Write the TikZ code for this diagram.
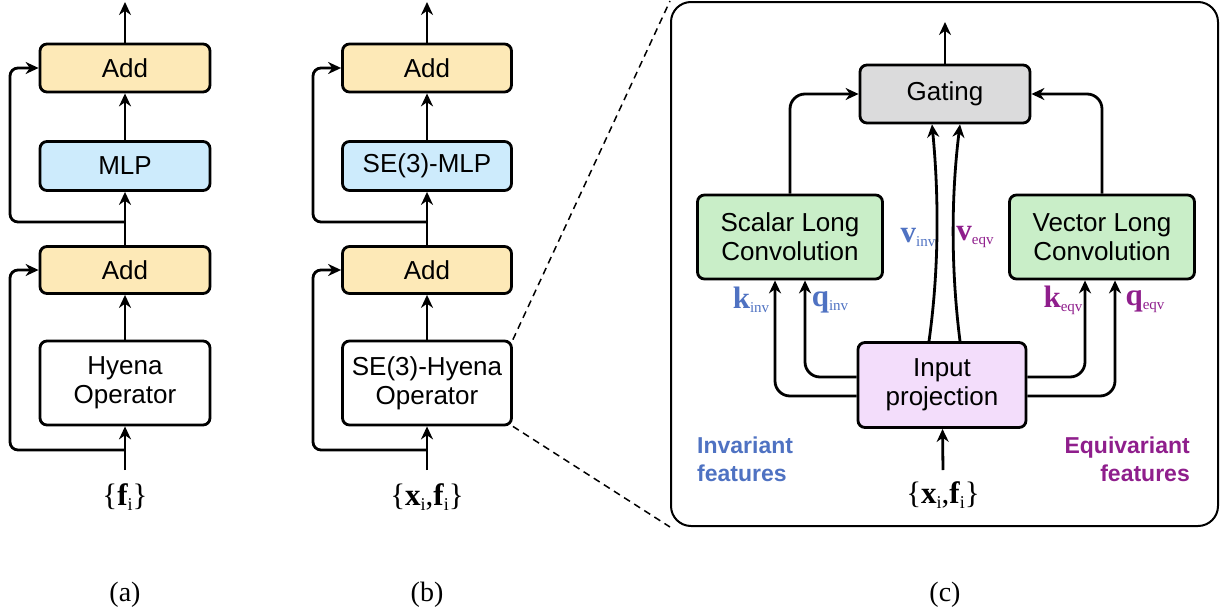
\documentclass[tikz,border=0pt]{standalone}
\usepackage{fontspec}
\setmainfont{Liberation Serif}
\setsansfont{Liberation Sans}
\usetikzlibrary{arrows.meta,calc}
\definecolor{addc}{HTML}{FDE9B7}
\definecolor{mlpc}{HTML}{CDEBFC}
\definecolor{gatec}{HTML}{DBDBDC}
\definecolor{convc}{HTML}{C9EEC8}
\definecolor{projc}{HTML}{F3DDFB}
\definecolor{invc}{HTML}{4F72C2}
\definecolor{eqvc}{HTML}{8F1E8C}
\newcommand{\lab}[2]{{\fontsize{31}{31}\selectfont\bfseries #1}\raisebox{-4pt}{\fontsize{15}{15}\selectfont #2}}
\newcommand{\isub}[1]{{\bfseries #1}\raisebox{-5pt}{\fontsize{18}{18}\selectfont i}}
\begin{document}
\begin{tikzpicture}[x=1pt,y=-1pt,
  box/.style={draw, line width=2.8pt, rounded corners=7pt, inner sep=0pt, align=center,
    font=\sffamily\fontsize{26}{29}\selectfont},
  arr/.style={-{Stealth[length=13pt,width=12pt]}, line width=2.8pt},
  inlab/.style={font=\fontsize{31}{31}\selectfont, inner sep=0pt},
  captxt/.style={font=\fontsize{28}{28}\selectfont, inner sep=0pt},
  feat/.style={font=\sffamily\bfseries\fontsize{23}{28}\selectfont, inner sep=0pt},
  vlab/.style={inner sep=0pt}]
\useasboundingbox (0,0) rectangle (1220,613);

% ---------- (a) ----------
\node[box, fill=addc, minimum width=170, minimum height=48] (a1) at (125,68) {Add};
\node[box, fill=mlpc, minimum width=170, minimum height=49] (amlp) at (125,166) {MLP};
\node[box, fill=addc, minimum width=170, minimum height=47] (a2) at (125,270) {Add};
\node[box, fill=white, minimum width=170, minimum height=84] (ahy) at (125,383) {Hyena\\Operator};
\node[inlab] (ain) at (125,497) {\textbraceleft\isub{f}\textbraceright};
\coordinate (atop) at (125,2);
\coordinate (ab1) at (125,450);
\coordinate (ab2) at (125,222);
\coordinate (ainst) at (125,470);
\draw[arr] (a1) -- (atop);
\draw[arr] (amlp) -- (a1);
\draw[arr] (a2) -- (amlp);
\draw[arr] (ahy) -- (a2);
\draw[arr] (ainst) -- (ahy);
\draw[arr, rounded corners=8pt] (ab1) -- ++(-115,0) |- (a2.west);
\draw[arr, rounded corners=8pt] (ab2) -- ++(-115,0) |- (a1.west);
\node[captxt] (capa) at (125,595) {(a)};

% ---------- (b) ----------
\node[box, fill=addc, minimum width=169, minimum height=48] (b1) at (427,68) {Add};
\node[box, fill=mlpc, minimum width=169, minimum height=49] (bmlp) at (427,166) {SE(3)-MLP};
\node[box, fill=addc, minimum width=169, minimum height=47] (b2) at (427,270) {Add};
\node[box, fill=white, minimum width=169, minimum height=84] (bhy) at (427,383) {SE(3)-Hyena\\Operator};
\node[inlab] (bin) at (427,497) {\textbraceleft\isub{x},\isub{f}\textbraceright};
\coordinate (btop) at (427,2);
\coordinate (bb1) at (427,450);
\coordinate (bb2) at (427,222);
\coordinate (binst) at (427,470);
\draw[arr] (b1) -- (btop);
\draw[arr] (bmlp) -- (b1);
\draw[arr] (b2) -- (bmlp);
\draw[arr] (bhy) -- (b2);
\draw[arr] (binst) -- (bhy);
\draw[arr, rounded corners=8pt] (bb1) -- ++(-114,0) |- (b2.west);
\draw[arr, rounded corners=8pt] (bb2) -- ++(-114,0) |- (b1.west);
\node[captxt] (capb) at (427,595) {(b)};

% ---------- (c) ----------
\node[draw, line width=2pt, rounded corners=20pt, minimum width=547, minimum height=524, inner sep=0pt] (panel) at (944.5,264) {};
\draw[dashed, line width=1.5pt, dash pattern=on 7pt off 5pt] (bhy.north east) -- (panel.north west);
\draw[dashed, line width=1.5pt, dash pattern=on 7pt off 5pt] (bhy.south east) -- (panel.south west);

\node[box, fill=gatec, minimum width=170, minimum height=58] (gate) at (945,94) {Gating};
\node[box, fill=convc, minimum width=185, minimum height=84] (scal) at (790,237) {Scalar Long\\Convolution};
\node[box, fill=convc, minimum width=185, minimum height=84] (vect) at (1102,237) {Vector Long\\Convolution};
\node[box, fill=projc, minimum width=168, minimum height=85] (proj) at (942,385) {Input\\projection};
\node[inlab] (cin) at (943,495) {\textbraceleft\isub{x},\isub{f}\textbraceright};
\coordinate (gtop) at (945,22);
\coordinate (cinst) at (943,470);

\draw[arr] (gate.north) -- (gtop);
\draw[arr] (cinst) -- (proj);
\draw[arr, rounded corners=15pt] (scal.north) |- (gate.west);
\draw[arr, rounded corners=15pt] (vect.north) |- (gate.east);

\draw[arr, rounded corners=15pt] ($(proj.west)+(0,11)$) -| ($(scal.south)+(-15,0)$);
\draw[arr, rounded corners=15pt] ($(proj.west)+(0,-8)$) -| ($(scal.south)+(15,0)$);
\draw[arr, rounded corners=15pt] ($(proj.east)+(0,-8)$) -| ($(vect.south)+(-17,0)$);
\draw[arr, rounded corners=15pt] ($(proj.east)+(0,11)$) -| ($(vect.south)+(13,0)$);

\draw[arr] ($(proj.north)+(-13,0)$) .. controls (939,270) and (939,197) .. ($(gate.south)+(-13,0)$);
\draw[arr] ($(proj.north)+(18,0)$) .. controls (951,270) and (951,197) .. ($(gate.south)+(15,0)$);

\node[vlab, text=invc] (vinv) at (918,237) {\lab{v}{inv}};
\node[vlab, text=eqvc] (veqv) at (975,237) {\lab{v}{eqv}};
\node[vlab, text=invc] (kinv) at (751,300) {\lab{k}{inv}};
\node[vlab, text=invc] (qinv) at (830,302) {\lab{q}{inv}};
\node[vlab, text=eqvc] (keqv) at (1063,300) {\lab{k}{eqv}};
\node[vlab, text=eqvc] (qeqv) at (1145,302) {\lab{q}{eqv}};

\node[feat, text=invc, anchor=west, align=left] (invt) at (697,459) {Invariant\\features};
\node[feat, text=eqvc, anchor=east, align=right] (eqvt) at (1190,459) {Equivariant\\features};
\node[captxt] (capc) at (945,595) {(c)};
\end{tikzpicture}
\end{document}
